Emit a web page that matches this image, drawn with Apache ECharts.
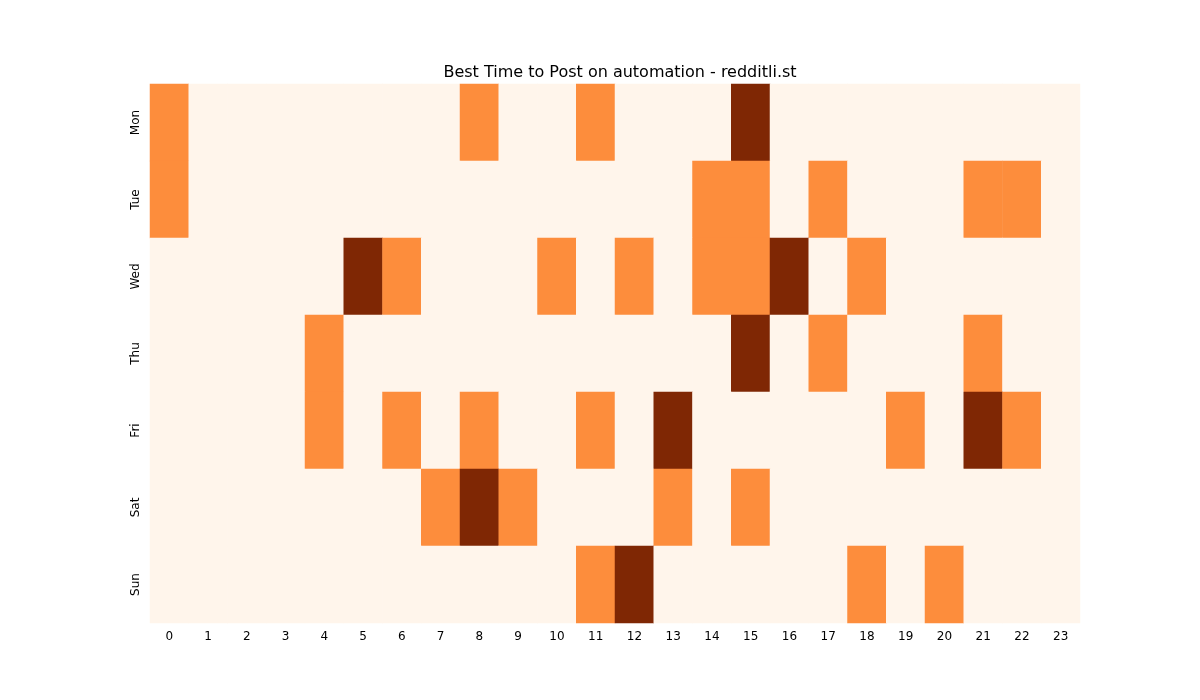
<!DOCTYPE html>
<html><head><meta charset="utf-8">
<script src="https://cdn.jsdelivr.net/npm/echarts@6/dist/echarts.min.js"></script>
<style>html,body{margin:0;padding:0;background:#fff}#c{width:1200px;height:700px}</style>
</head><body><div id="c"></div>
<script>
const hours = Array.from({length:24},(_,i)=>String(i));
const days = ['Mon','Tue','Wed','Thu','Fri','Sat','Sun'];
const mon = [1,0,0,0,0,0,0,0,1,0,0,1,0,0,0,2,0,0,0,0,0,0,0,0];
const tue = [1,0,0,0,0,0,0,0,0,0,0,0,0,0,1,1,0,1,0,0,0,1,1,0];
const wed = [0,0,0,0,0,2,1,0,0,0,1,0,1,0,1,1,2,0,1,0,0,0,0,0];
const thu = [0,0,0,0,1,0,0,0,0,0,0,0,0,0,0,2,0,1,0,0,0,1,0,0];
const fri = [0,0,0,0,1,0,1,0,1,0,0,1,0,2,0,0,0,0,0,1,0,2,1,0];
const sat = [0,0,0,0,0,0,0,1,2,1,0,0,0,1,0,1,0,0,0,0,0,0,0,0];
const sun = [0,0,0,0,0,0,0,0,0,0,0,1,2,0,0,0,0,0,1,0,1,0,0,0];
const rows = [mon,tue,wed,thu,fri,sat,sun];
const data = [];
rows.forEach((r,d)=>r.forEach((v,h)=>data.push([h,d,v])));
const chart = echarts.init(document.getElementById('c'));
chart.setOption({
  animation:false,
  title:{text:'Best Time to Post on automation - redditli.st',left:615,top:60,textAlign:'center',
    textStyle:{fontFamily:'DejaVu Sans',fontSize:16,fontWeight:'normal',color:'#000'}},
  graphic:[{type:'text',left:'center',top:336,x:0,style:{text:'redditli.st',fontFamily:'DejaVu Sans',fontSize:27,fill:'rgba(150,150,150,0.5)'},left:550}],
  grid:{left:150,right:120,top:84,bottom:77},
  xAxis:{type:'category',data:hours,splitArea:{show:false},axisLine:{show:false},
    axisTick:{alignWithLabel:true,length:4,lineStyle:{color:'#000'}},
    axisLabel:{color:'#000',fontFamily:'DejaVu Sans',fontSize:12,margin:8}},
  yAxis:{type:'category',data:days,inverse:true,axisLine:{show:false},
    axisTick:{alignWithLabel:true,length:4,lineStyle:{color:'#000'}},
    axisLabel:{color:'#000',fontFamily:'DejaVu Sans',fontSize:12,rotate:90,margin:8}},
  visualMap:{show:false,type:'piecewise',dimension:2,
    pieces:[{value:0,color:'#fff5eb'},{value:1,color:'#fd8d3c'},{value:2,color:'#7f2704'}]},
  series:[{type:'heatmap',data:data,itemStyle:{borderWidth:0},emphasis:{disabled:true}}]
});
</script></body></html>
